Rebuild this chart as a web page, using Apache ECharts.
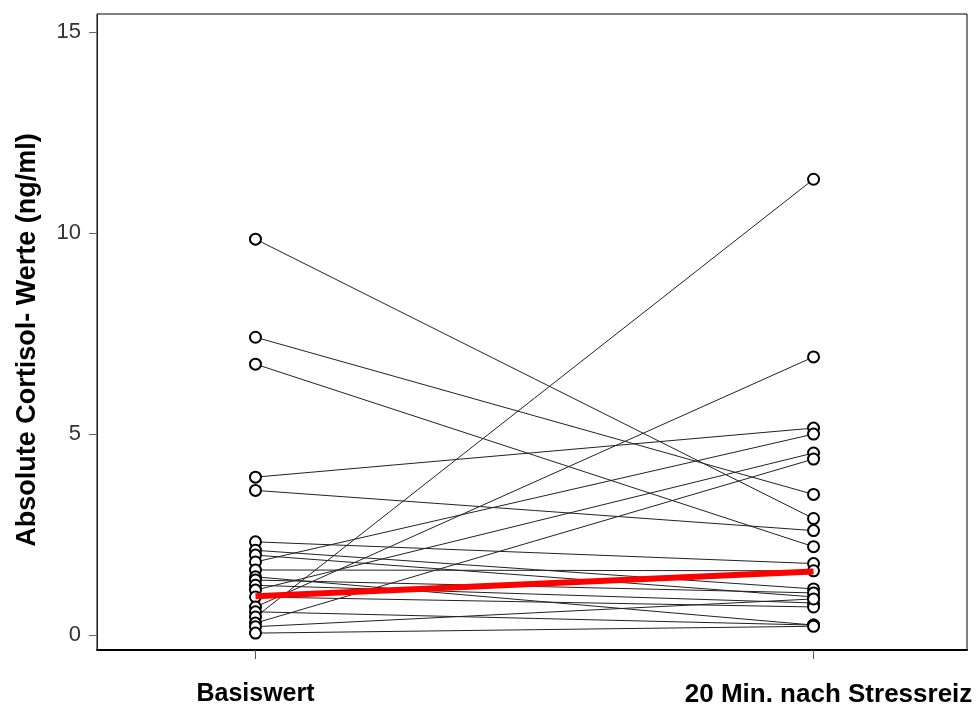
<!DOCTYPE html>
<html>
<head>
<meta charset="utf-8">
<script src="https://cdn.jsdelivr.net/npm/echarts@6/dist/echarts.min.js"></script>
<style>html,body{margin:0;padding:0;background:#fff}#c{width:980px;height:708px}</style>
</head>
<body>
<div id="c"></div>
<script>
const categories = ['Basiswert', '20 Min. nach Stressreiz'];
const baseline = [9.85, 7.41, 6.74, 3.93, 3.6, 2.32, 2.11, 1.99, 1.82, 1.62, 1.45, 1.37, 1.24, 1.12, 0.95, 0.7, 0.58, 0.45, 0.3, 0.21, 0.05];
const afterStress = [2.9, 3.5, 2.2, 5.15, 2.6, 1.78, 1.15, 0.95, 5.0, 1.6, 0.25, 1.05, 0.8, 4.53, 0.7, 6.92, 0.25, 11.34, 4.38, 0.9, 0.22];
const medianLine = [0.97, 1.58];
const yTicks = [0, 5, 10, 15];
const xTicks = [0, 1];

const series = baseline.map((b, i) => ({
  type: 'line',
  data: [[0, b], [1, afterStress[i]]],
  symbol: 'emptyCircle',
  symbolSize: 11,
  showSymbol: true,
  lineStyle: { color: '#222', width: 1 },
  itemStyle: { color: '#000', borderColor: '#000', borderWidth: 2.2 },
  z: 2,
  silent: true
}));
series.push({
  type: 'line',
  data: medianLine.map((v, i) => [i, v]),
  symbol: 'none',
  lineStyle: { color: '#ff0000', width: 6 },
  z: 5,
  silent: true
});

const chart = echarts.init(document.getElementById('c'));
chart.setOption({
  animation: false,
  backgroundColor: '#fff',
  grid: { left: 97, right: 13, top: 14, bottom: 58, show: true, borderColor: '#000', borderWidth: 1, backgroundColor: 'transparent' },
  xAxis: {
    type: 'value', min: -0.284, max: 1.275,
    splitLine: { show: false },
    axisLine: { show: true, onZero: false, lineStyle: { color: '#000', width: 2 } },
    axisTick: { show: true, customValues: xTicks, length: 9, lineStyle: { color: '#555' } },
    axisLabel: {
      customValues: xTicks,
      margin: 32,
      formatter: v => v === 0 ? '{a|' + categories[0] + '}' : '{b|' + categories[1] + '}',
      rich: {
        a: { fontFamily: 'Liberation Sans', fontWeight: 'bold', fontSize: 25, color: '#000' },
        b: { fontFamily: 'Liberation Sans', fontWeight: 'bold', fontSize: 26, color: '#000', padding: [0, 0, 0, 30] }
      }
    }
  },
  yAxis: {
    type: 'value', min: -0.37, max: 15.45,
    name: 'Absolute Cortisol- Werte (ng/ml)',
    nameLocation: 'middle', nameGap: 56,
    nameTextStyle: { fontFamily: 'Liberation Sans', fontWeight: 'bold', fontSize: 27, color: '#000', padding: [0, 16, 0, 0] },
    splitLine: { show: false },
    axisLine: { show: true, onZero: false, lineStyle: { color: '#222', width: 1 } },
    axisTick: { show: true, customValues: yTicks, length: 8, lineStyle: { color: '#666' } },
    axisLabel: { customValues: yTicks, margin: 16, fontFamily: 'Liberation Sans', fontSize: 22, color: '#333' }
  },
  series: series
});
</script>
</body>
</html>
